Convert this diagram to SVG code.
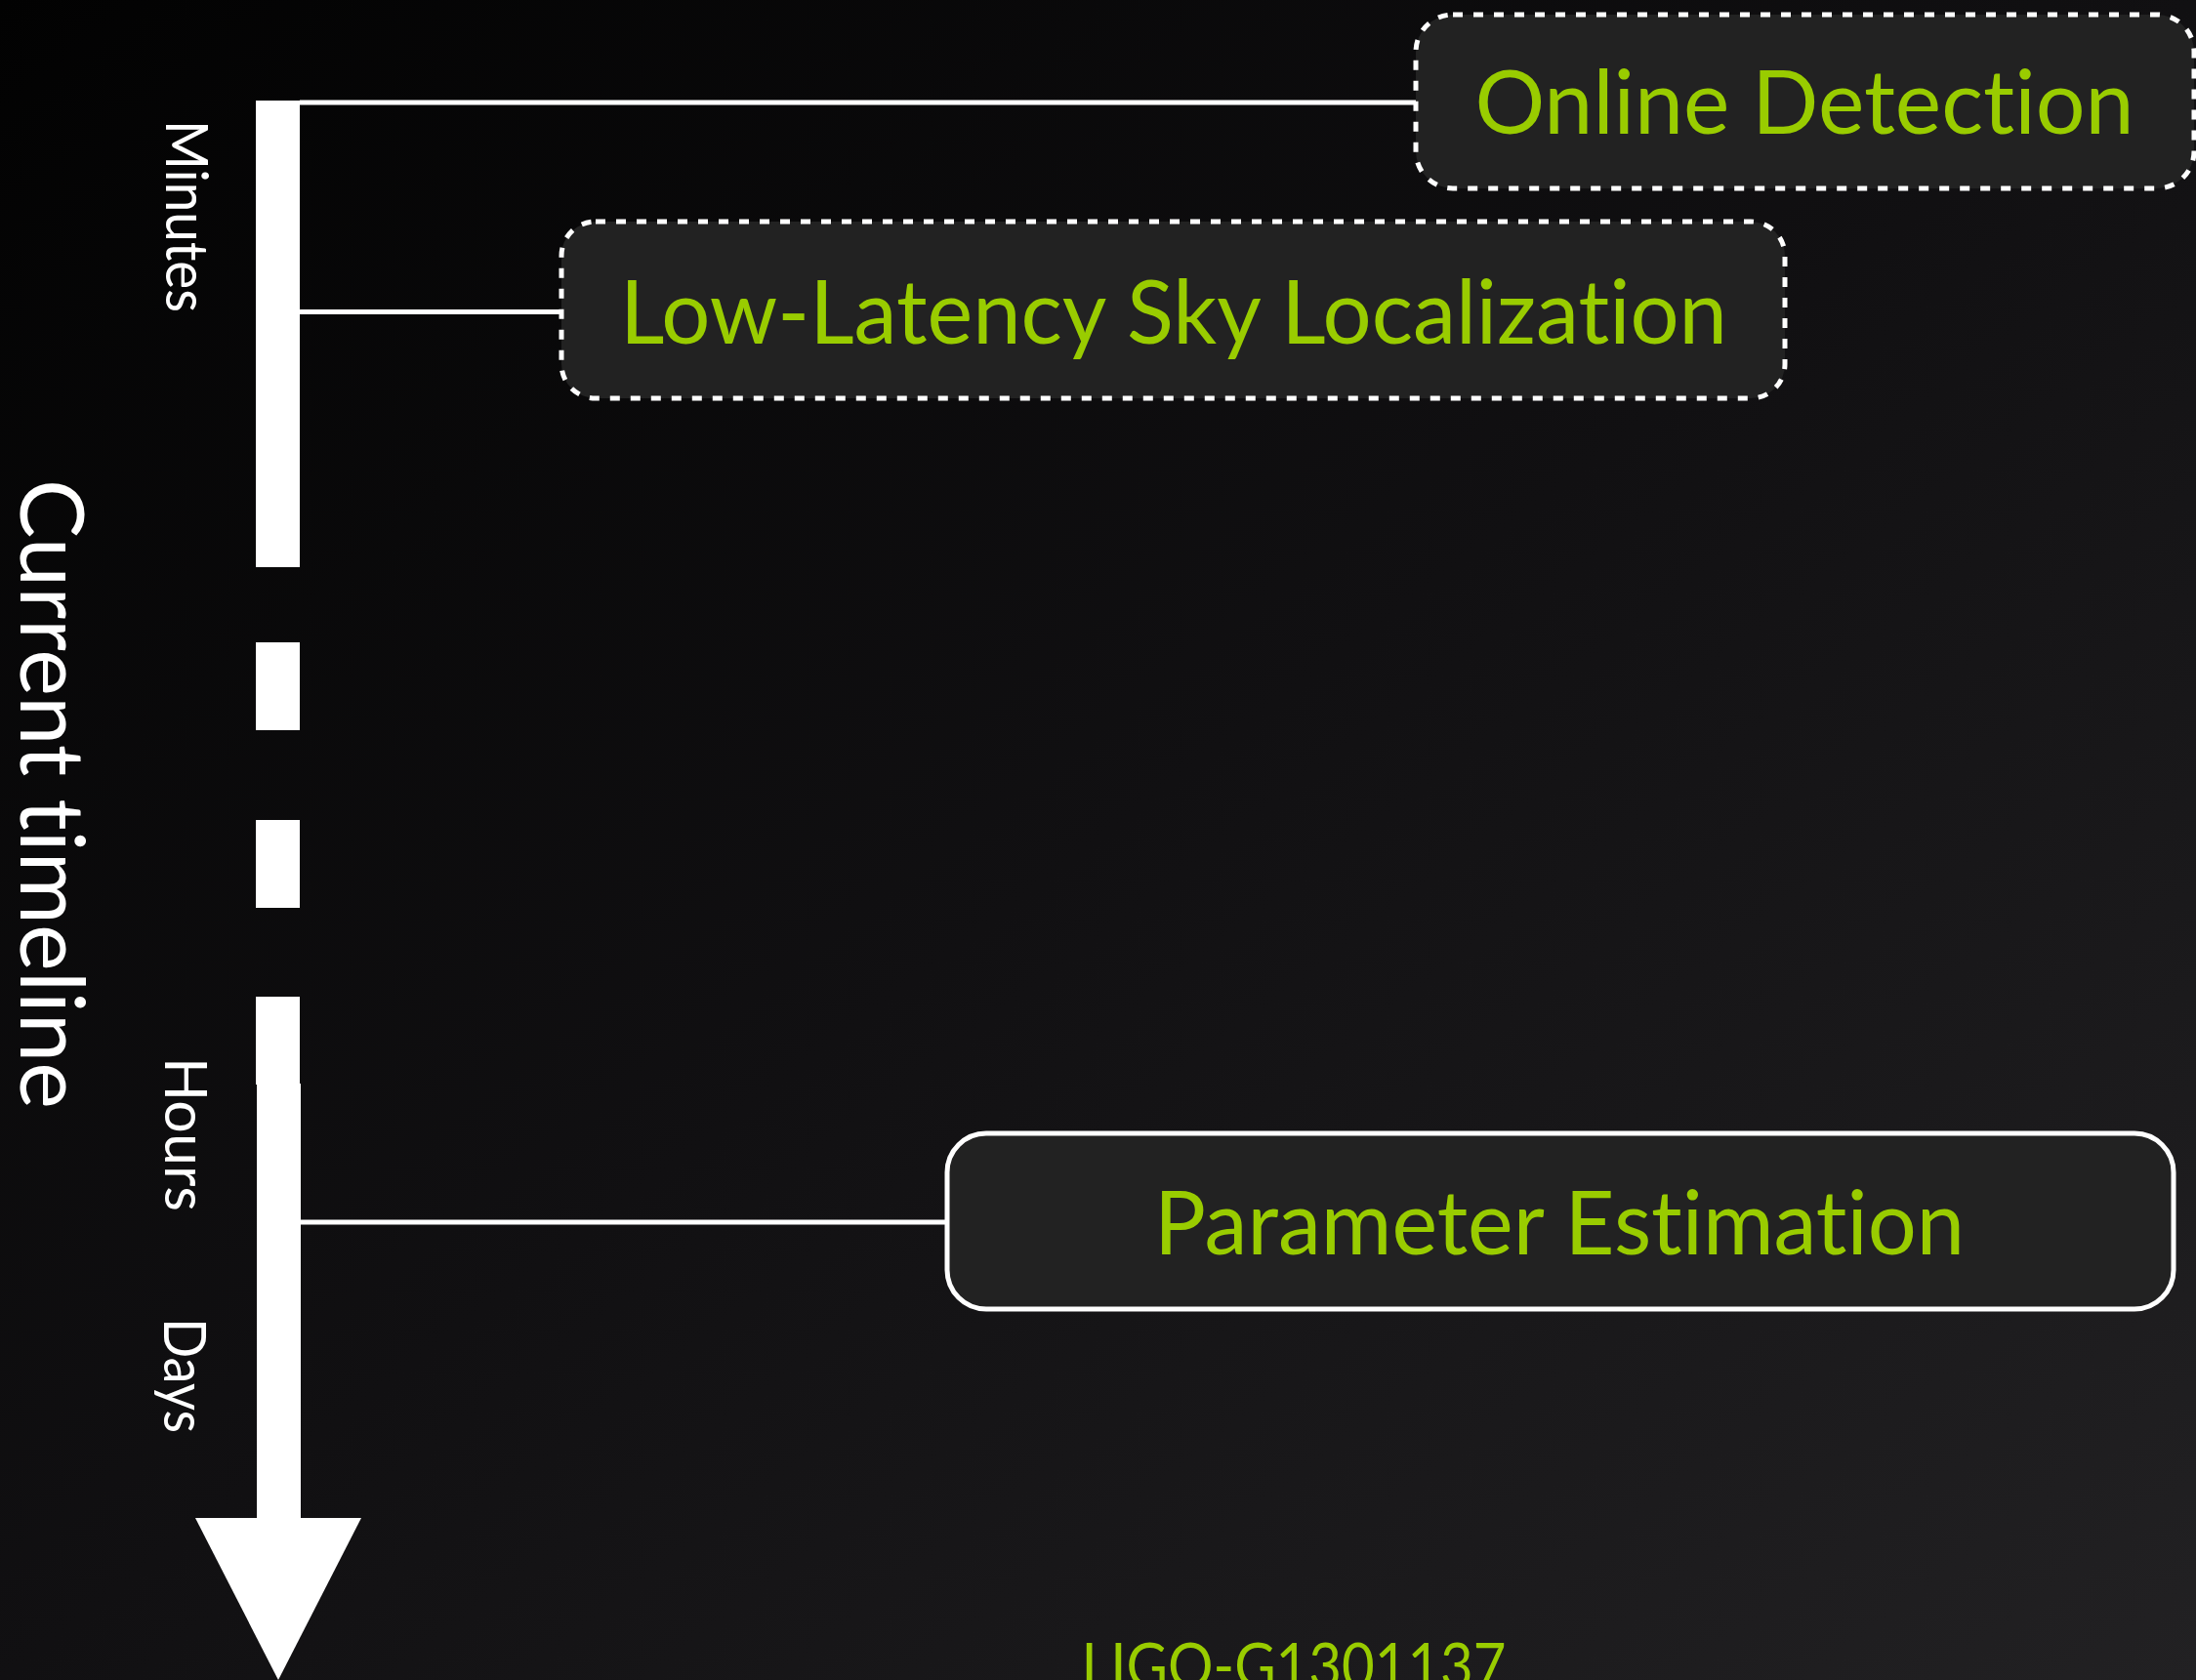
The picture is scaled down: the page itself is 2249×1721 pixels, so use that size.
<svg xmlns="http://www.w3.org/2000/svg" width="2249" height="1721" viewBox="0 0 2249 1721">
<defs>
<linearGradient id="bg" x1="0" y1="0" x2="1" y2="1">
<stop offset="0" stop-color="#020202"/>
<stop offset="0.5" stop-color="#111012"/>
<stop offset="1" stop-color="#222123"/>
</linearGradient>
<style>
text{font-variant-ligatures:none;font-feature-settings:"liga" 0,"clig" 0}
.box{fill:#222222;stroke:#ffffff;stroke-width:5}
.dashed{stroke-dasharray:10 11}
.lbl{font-family:Lato,"Open Sans","Liberation Sans",sans-serif;fill:#99cc00;font-size:92px;text-anchor:middle}
.axis{font-family:Lato,"Open Sans","Liberation Sans",sans-serif;fill:#ffffff}
.conn{stroke:#ffffff;stroke-width:5;fill:none}
.bar{fill:#ffffff}
</style>
</defs>
<rect width="2249" height="1721" fill="url(#bg)"/>

<g id="timeline">
<rect class="bar" x="262" y="103" width="45" height="478"/>
<rect class="bar" x="262" y="658" width="45" height="90"/>
<rect class="bar" x="262" y="840" width="45" height="90"/>
<rect class="bar" x="262" y="1021" width="45" height="90"/>
<rect class="bar" x="263" y="1110" width="45" height="446"/>
<polygon class="bar" points="200,1555 370,1555 285,1721"/>
</g>

<g id="axis-labels">
<text class="axis" font-size="92" transform="translate(21,491) rotate(90)" textLength="645" lengthAdjust="spacingAndGlyphs">Current timeline</text>
<text class="axis" font-size="60" transform="translate(170,123) rotate(90)" textLength="197" lengthAdjust="spacingAndGlyphs">Minutes</text>
<text class="axis" font-size="60" transform="translate(169,1083) rotate(90)" textLength="158" lengthAdjust="spacingAndGlyphs">Hours</text>
<text class="axis" font-size="60" transform="translate(168,1350) rotate(90)" textLength="118" lengthAdjust="spacingAndGlyphs">Days</text>
</g>

<g id="connectors">
<line class="conn" x1="307" y1="105" x2="1450" y2="105"/>
<line class="conn" x1="307" y1="319.5" x2="575" y2="319.5"/>
<line class="conn" x1="307" y1="1252" x2="970" y2="1252"/>
</g>

<g id="online-detection">
<rect class="box dashed" x="1450" y="15" width="797" height="178" rx="38"/>
<text class="lbl" x="1848" y="137" textLength="675" lengthAdjust="spacingAndGlyphs">Online Detection</text>
</g>

<g id="sky-localization">
<rect class="box dashed" x="575" y="227" width="1253" height="181" rx="35"/>
<text class="lbl" x="1202" y="352" textLength="1134" lengthAdjust="spacingAndGlyphs">Low-Latency Sky Localization</text>
</g>

<g id="parameter-estimation">
<rect class="box" x="970" y="1161" width="1256" height="180" rx="40"/>
<text class="lbl" x="1597" y="1285" textLength="830" lengthAdjust="spacingAndGlyphs">Parameter Estimation</text>
</g>

<g id="footer">
<text class="lbl" x="1325" y="1729" style="font-size:64px" textLength="435" lengthAdjust="spacingAndGlyphs">LIGO-G1301137</text>
</g>
</svg>
